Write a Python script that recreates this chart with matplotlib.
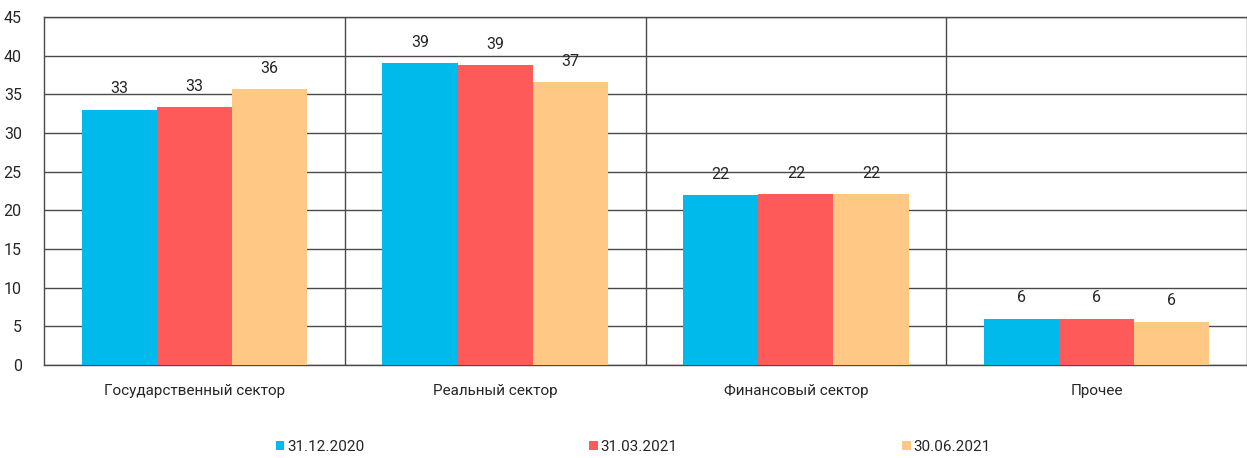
import matplotlib
matplotlib.use("Agg")
import matplotlib.pyplot as plt
import numpy as np

plt.rcParams['font.family'] = ['Roboto', 'DejaVu Sans']

categories = ["Государственный сектор", "Реальный сектор", "Финансовый сектор", "Прочее"]
dates = ["31.12.2020", "31.03.2021", "30.06.2021"]
v_2020_12 = [33.0, 39.0, 22.0, 6.0]
v_2021_03 = [33.3, 38.8, 22.1, 6.0]
v_2021_06 = [35.7, 36.6, 22.1, 5.6]
series = [v_2020_12, v_2021_03, v_2021_06]
colors = ["#00BAEB", "#FF5A5A", "#FFC985"]

text_color = "#262626"
line_color = "#4a4a4a"

fig = plt.figure(figsize=(12.47, 4.58), dpi=100)
ax = fig.add_axes([44 / 1247, 1 - 365 / 458, 1 - 44 / 1247, 348 / 458])

x = np.arange(len(categories))
w = 0.25
for i, (vals, c, lab) in enumerate(zip(series, colors, dates)):
    pos = x + (i - 1) * w
    ax.bar(pos, vals, width=w, color=c, label=lab, zorder=3)
    for p, v in zip(pos, vals):
        ax.annotate(f"{v:.0f}", (p, v), xytext=(0, 15), textcoords="offset points",
                    ha="center", va="center", fontsize=11.5, color=text_color, zorder=4)

ax.set_xlim(-0.5, len(categories) - 0.5)
ax.set_ylim(0, 45)
ax.set_yticks(np.arange(0, 46, 5))
ax.yaxis.grid(True, color=line_color, linewidth=1.0, zorder=0)
for b in np.arange(0.5, len(categories) - 0.5, 1):
    ax.axvline(b, color=line_color, linewidth=1.0, zorder=0)

for s in ["left", "bottom", "top", "right"]:
    ax.spines[s].set_color(line_color)
    ax.spines[s].set_linewidth(1.0)

ax.set_xticks(x)
ax.set_xticklabels(categories)
ax.tick_params(axis="x", length=0, pad=14, labelsize=11, labelcolor=text_color)
ax.tick_params(axis="y", length=0, pad=16, labelsize=11.5, labelcolor=text_color)

fig.legend(loc="center", bbox_to_anchor=(0.508, 1 - 447 / 458), ncol=3, frameon=False,
           fontsize=11, handlelength=0.55, handleheight=0.55, handletextpad=0.2,
           columnspacing=14.7, labelcolor=text_color)

fig.savefig("out.png", dpi=100)
